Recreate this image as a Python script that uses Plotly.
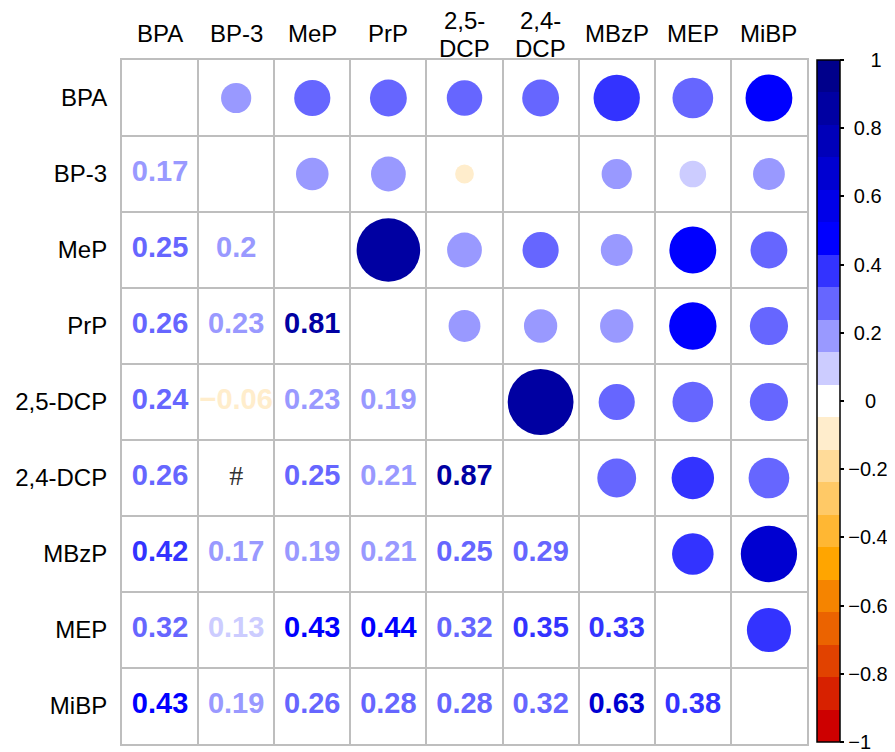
import plotly.graph_objects as go

# variables, in matrix order
labels = ["BPA", "BP-3", "MeP", "PrP", "2,5-DCP", "2,4-DCP", "MBzP", "MEP", "MiBP"]
col_labels = ["BPA", "BP-3", "MeP", "PrP", "2,5-\nDCP", "2,4-\nDCP", "MBzP", "MEP", "MiBP"]

# lower triangle of the correlation matrix, one list per row (None = not shown, "#")
r_bp3 = [0.17]
r_mep = [0.25, 0.20]
r_prp = [0.26, 0.23, 0.81]
r_25dcp = [0.24, -0.06, 0.23, 0.19]
r_24dcp = [0.26, None, 0.25, 0.21, 0.87]
r_mbzp = [0.42, 0.17, 0.19, 0.21, 0.25, 0.29]
r_mep2 = [0.32, 0.13, 0.43, 0.44, 0.32, 0.35, 0.334]
r_mibp = [0.43, 0.19, 0.26, 0.28, 0.28, 0.32, 0.63, 0.38]
lower = [[], r_bp3, r_mep, r_prp, r_25dcp, r_24dcp, r_mbzp, r_mep2, r_mibp]

cbar_vals = [1, 0.8, 0.6, 0.4, 0.2, 0, -0.2, -0.4, -0.6, -0.8, -1]
cbar_text = ["1", "0.8", "0.6", "0.4", "0.2", "0", "\u22120.2", "\u22120.4", "\u22120.6", "\u22120.8", "\u22121"]

# 21-step palette: red -> orange -> white -> blue -> dark blue
anchors = [(205, 0, 0), (255, 165, 0), (255, 255, 255), (0, 0, 255), (0, 0, 139)]
palette = []
for k in range(21):
    seg, f = divmod(k, 5)
    if seg == 4:
        c = anchors[4]
    else:
        a, b = anchors[seg], anchors[seg + 1]
        c = tuple(round(a[i] + (b[i] - a[i]) * f / 5) for i in range(3))
    palette.append('rgb(%d,%d,%d)' % c)

colorscale = []
for k, c in enumerate(palette):
    colorscale.append([k / 21, c])
    colorscale.append([(k + 1) / 21, c])


def col_of(v):
    return palette[min(int((v + 1) * 21 / 2), 20)]


def fmt(v):
    s = ('%.2f' % abs(v)).rstrip('0').rstrip('.')
    return ('\u2212' if v < 0 else '') + s


# R-style padded colorbar labels (roughly centred)
NB = '\u00a0'
pad = {'1': 4, '0': 3}
cbar_text = [NB * pad.get(t, 0 if t.startswith('\u2212') else 1) + t for t in cbar_text]

FONT = "Liberation Sans, Arial, sans-serif"
CELL = 76

# circles (upper) and numbers (lower)
cx, cy, cv, cs = [], [], [], []
tx, ty, tt, tc = [], [], [], []
hx, hy = [], []
for i, row in enumerate(lower):
    for j, v in enumerate(row):
        if v is None:
            hx.append(j)
            hy.append(i)
            continue
        tx.append(j)
        ty.append(i)
        tt.append(fmt(v))
        tc.append(col_of(v))
        cx.append(i)
        cy.append(j)
        cv.append(v)
        cs.append(0.9 * CELL * abs(v) ** 0.5 + 2)

fig = go.Figure()
fig.add_trace(go.Scatter(
    x=cx, y=cy, mode='markers',
    marker=dict(
        color=cv, size=cs, opacity=1, colorscale=colorscale, cmin=-1, cmax=1,
        line=dict(width=0),
        showscale=True,
        colorbar=dict(
            x=(817 - 122) / 685, xanchor='left', xpad=0,
            y=1, yanchor='top', ypad=0,
            len=682, lenmode='pixels', thickness=23,
            outlinewidth=1.5, outlinecolor='black',
            ticks='outside', ticklen=4, tickwidth=1.5, tickcolor='black',
            tickvals=cbar_vals, ticktext=cbar_text, ticklabeloverflow='allow',
            tickfont=dict(family=FONT, size=20, color='black'),
        ),
    ),
    hoverinfo='skip', showlegend=False,
))
fig.add_trace(go.Scatter(
    x=tx, y=ty, mode='text', text=tt,
    textfont=dict(family=FONT, size=29, color=tc, weight='bold'),
    hoverinfo='skip', showlegend=False,
))
fig.add_trace(go.Scatter(
    x=hx, y=hy, mode='text', text=['#'] * len(hx),
    textfont=dict(family="Liberation Serif, Times New Roman, serif", size=28, color='#333333'),
    hoverinfo='skip', showlegend=False,
))

# column labels on top
shifts = {1: [26.5], 2: [39.5, 12]}
for j, lab in enumerate(col_labels):
    lines = lab.split('\n')
    for line, ys in zip(lines, shifts[len(lines)]):
        fig.add_annotation(
            x=j, xref='x', y=1, yref='paper', yanchor='middle', yshift=ys,
            text=line, showarrow=False,
            font=dict(family=FONT, size=24, color='black'),
        )

# the page body adds an 8px margin, so the figure is 8px smaller with 8px less top/left margin
grid = dict(color='#BEBEBE', width=2)
fig.update_layout(
    width=887, height=744,
    paper_bgcolor='white', plot_bgcolor='white',
    margin=dict(l=114, r=88, t=52, b=8, autoexpand=False),
    xaxis=dict(
        range=[-0.5, 8.5], showticklabels=False, showgrid=False, zeroline=False,
        showline=True, mirror=True, linecolor=grid['color'], linewidth=grid['width'],
        minor=dict(tickmode='linear', tick0=-0.5, dtick=1, showgrid=True,
                   gridcolor=grid['color'], gridwidth=grid['width']),
    ),
    yaxis=dict(
        range=[8.5, -0.5], tickmode='array', tickvals=list(range(9)), ticktext=labels,
        ticks='', ticklabelstandoff=8, showgrid=False, zeroline=False,
        tickfont=dict(family=FONT, size=24, color='black'),
        showline=True, mirror=True, linecolor=grid['color'], linewidth=grid['width'],
        minor=dict(tickmode='linear', tick0=-0.5, dtick=1, showgrid=True,
                   gridcolor=grid['color'], gridwidth=grid['width']),
    ),
)
fig.write_html("out.html")
